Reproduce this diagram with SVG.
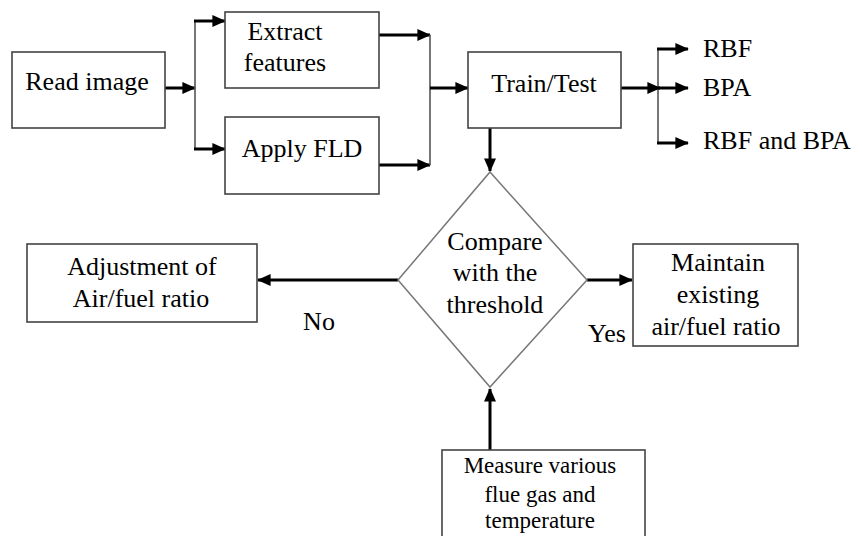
<svg xmlns="http://www.w3.org/2000/svg" width="862" height="536" viewBox="0 0 862 536">
<defs>
<marker id="ah" markerWidth="4.5" markerHeight="4" refX="4.2" refY="2" orient="auto" markerUnits="strokeWidth">
<path d="M0,0 L4.5,2 L0,4 Z" fill="#000"/>
</marker>
<style>
.box{fill:#fff;stroke:#444;stroke-width:1.6}
.dia{fill:#fff;stroke:#777;stroke-width:1.5}
.t{font-size:26px;fill:#000}
.s{font-size:23px;fill:#000}
.c{text-anchor:middle}
.a{fill:none;stroke:#000;stroke-width:3;marker-end:url(#ah)}
.l{fill:none;stroke:#555;stroke-width:1.6}
</style>
</defs>
<rect width="862" height="536" fill="#fff"/>
<g id="connectors">
<line class="a" x1="165" y1="88" x2="195" y2="88"/>
<line class="l" x1="195" y1="21" x2="195" y2="149"/>
<line class="a" x1="194" y1="21" x2="225" y2="21"/>
<line class="a" x1="194" y1="149" x2="225" y2="149"/>
<line class="a" x1="379" y1="35" x2="430" y2="35"/>
<line class="a" x1="379" y1="165" x2="430" y2="165"/>
<line class="l" x1="430" y1="35" x2="430" y2="165"/>
<line class="a" x1="430" y1="88" x2="468" y2="88"/>
<line class="a" x1="621" y1="88" x2="660" y2="88"/>
<line class="l" x1="658" y1="49" x2="658" y2="143"/>
<line class="a" x1="657" y1="49" x2="688" y2="49"/>
<line class="a" x1="657" y1="88" x2="688" y2="88"/>
<line class="a" x1="657" y1="143" x2="688" y2="143"/>
<line class="a" x1="490" y1="128" x2="490" y2="171"/>
<line class="a" x1="398" y1="280" x2="258" y2="280"/>
<line class="a" x1="587" y1="280" x2="632" y2="280"/>
<line class="a" x1="490" y1="450" x2="490" y2="389"/>
</g>
<g font-family="Liberation Serif, Tinos, DejaVu Serif, serif">
<g id="read-image">
<rect class="box" x="12" y="52" width="153" height="76"/>
<text class="t c" x="87" y="90">Read image</text>
</g>
<g id="extract-features">
<rect class="box" x="225" y="12" width="154" height="76"/>
<text class="t c" x="285" y="40">Extract</text>
<text class="t c" x="285" y="71">features</text>
</g>
<g id="apply-fld">
<rect class="box" x="225" y="117" width="154" height="77"/>
<text class="t c" x="302" y="157">Apply FLD</text>
</g>
<g id="train-test">
<rect class="box" x="468" y="52" width="153" height="76"/>
<text class="t c" x="544" y="92">Train/Test</text>
</g>
<g id="rbf"><text class="t" x="703" y="57">RBF</text></g>
<g id="bpa"><text class="t" x="703" y="96">BPA</text></g>
<g id="rbf-bpa"><text class="t" x="703" y="149">RBF and BPA</text></g>
<g id="compare">
<polygon class="dia" points="490,172 587,280 490,387 398,280"/>
<text class="t c" x="495" y="250">Compare</text>
<text class="t c" x="495" y="281">with the</text>
<text class="t c" x="495" y="313">threshold</text>
</g>
<g id="adjustment">
<rect class="box" x="27" y="244" width="230" height="78"/>
<text class="t c" x="142" y="275">Adjustment of</text>
<text class="t c" x="141" y="307">Air/fuel ratio</text>
</g>
<g id="maintain">
<rect class="box" x="633" y="244" width="165" height="102"/>
<text class="t c" x="718" y="271">Maintain</text>
<text class="t c" x="718" y="303">existing</text>
<text class="t c" x="716" y="335">air/fuel ratio</text>
</g>
<g id="measure">
<rect class="box" x="442" y="450" width="203" height="100"/>
<text class="s c" x="540" y="473">Measure various</text>
<text class="s c" x="540" y="502">flue gas and</text>
<text class="s c" x="540" y="528">temperature</text>
</g>
<g id="labels">
<text class="t c" x="319" y="330">No</text>
<text class="t c" x="607" y="342">Yes</text>
</g>
</g>
</svg>
